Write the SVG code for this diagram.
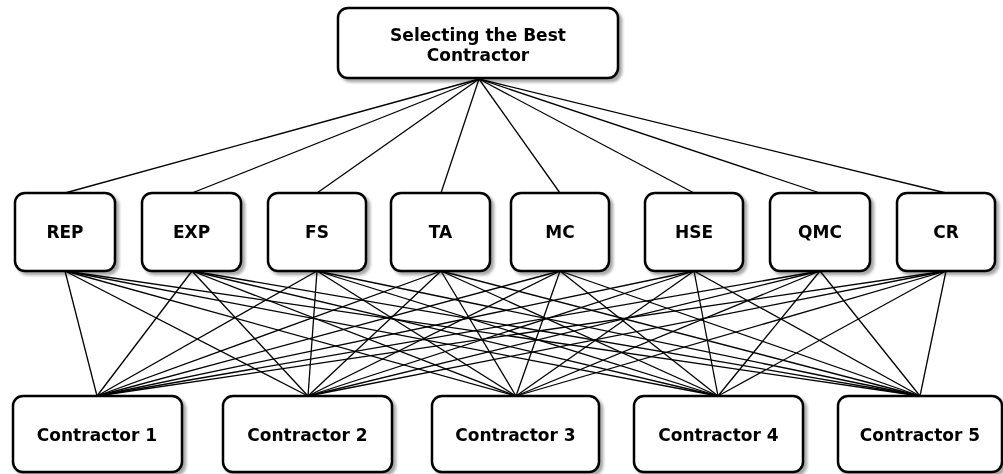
<svg xmlns="http://www.w3.org/2000/svg" width="1003" height="474" viewBox="0 0 1003 474">
<defs>
<filter id="sh" x="-10%" y="-10%" width="130%" height="130%">
<feGaussianBlur in="SourceAlpha" stdDeviation="1.5"/>
<feOffset dx="3" dy="3" result="b"/>
<feComponentTransfer><feFuncA type="linear" slope="0.35"/></feComponentTransfer>
<feMerge><feMergeNode/><feMergeNode in="SourceGraphic"/></feMerge>
</filter>
</defs>
<style>
.box{fill:#fff;stroke:#000;stroke-width:2.5}
.t{font-family:"DejaVu Sans",Verdana,sans-serif;font-weight:bold;font-size:17px;text-anchor:middle;fill:#000}
.c line{stroke:#000;stroke-width:1.3}
</style>
<rect width="1003" height="474" fill="#fff"/>
<g class="c" id="connectors">
<line x1="479" y1="79" x2="65" y2="193"/>
<line x1="479" y1="79" x2="192" y2="193"/>
<line x1="479" y1="79" x2="317" y2="193"/>
<line x1="479" y1="79" x2="441" y2="193"/>
<line x1="479" y1="79" x2="560" y2="193"/>
<line x1="479" y1="79" x2="694" y2="193"/>
<line x1="479" y1="79" x2="820" y2="193"/>
<line x1="479" y1="79" x2="946" y2="193"/>
<line x1="65" y1="271" x2="97" y2="396"/><line x1="65" y1="271" x2="308" y2="396"/><line x1="65" y1="271" x2="516" y2="396"/><line x1="65" y1="271" x2="718" y2="396"/><line x1="65" y1="271" x2="920" y2="396"/>
<line x1="192" y1="271" x2="97" y2="396"/><line x1="192" y1="271" x2="308" y2="396"/><line x1="192" y1="271" x2="516" y2="396"/><line x1="192" y1="271" x2="718" y2="396"/><line x1="192" y1="271" x2="920" y2="396"/>
<line x1="317" y1="271" x2="97" y2="396"/><line x1="317" y1="271" x2="308" y2="396"/><line x1="317" y1="271" x2="516" y2="396"/><line x1="317" y1="271" x2="718" y2="396"/><line x1="317" y1="271" x2="920" y2="396"/>
<line x1="441" y1="271" x2="97" y2="396"/><line x1="441" y1="271" x2="308" y2="396"/><line x1="441" y1="271" x2="516" y2="396"/><line x1="441" y1="271" x2="718" y2="396"/><line x1="441" y1="271" x2="920" y2="396"/>
<line x1="560" y1="271" x2="97" y2="396"/><line x1="560" y1="271" x2="308" y2="396"/><line x1="560" y1="271" x2="516" y2="396"/><line x1="560" y1="271" x2="718" y2="396"/><line x1="560" y1="271" x2="920" y2="396"/>
<line x1="694" y1="271" x2="97" y2="396"/><line x1="694" y1="271" x2="308" y2="396"/><line x1="694" y1="271" x2="516" y2="396"/><line x1="694" y1="271" x2="718" y2="396"/><line x1="694" y1="271" x2="920" y2="396"/>
<line x1="820" y1="271" x2="97" y2="396"/><line x1="820" y1="271" x2="308" y2="396"/><line x1="820" y1="271" x2="516" y2="396"/><line x1="820" y1="271" x2="718" y2="396"/><line x1="820" y1="271" x2="920" y2="396"/>
<line x1="946" y1="271" x2="97" y2="396"/><line x1="946" y1="271" x2="308" y2="396"/><line x1="946" y1="271" x2="516" y2="396"/><line x1="946" y1="271" x2="718" y2="396"/><line x1="946" y1="271" x2="920" y2="396"/>
</g>
<g id="goal" filter="url(#sh)"><rect class="box" x="338" y="8" width="280" height="70" rx="10"/><text class="t" x="478" y="41">Selecting the Best</text><text class="t" x="478" y="61">Contractor</text></g>
<g id="rep" filter="url(#sh)"><rect class="box" x="15" y="193" width="100" height="78" rx="10"/><text class="t" x="65" y="238">REP</text></g>
<g id="exp" filter="url(#sh)"><rect class="box" x="142" y="193" width="99" height="78" rx="10"/><text class="t" x="191.5" y="238">EXP</text></g>
<g id="fs" filter="url(#sh)"><rect class="box" x="268" y="193" width="98" height="78" rx="10"/><text class="t" x="317" y="238">FS</text></g>
<g id="ta" filter="url(#sh)"><rect class="box" x="391" y="193" width="99" height="78" rx="10"/><text class="t" x="440.5" y="238">TA</text></g>
<g id="mc" filter="url(#sh)"><rect class="box" x="511" y="193" width="98" height="78" rx="10"/><text class="t" x="560" y="238">MC</text></g>
<g id="hse" filter="url(#sh)"><rect class="box" x="645" y="193" width="98" height="78" rx="10"/><text class="t" x="694" y="238">HSE</text></g>
<g id="qmc" filter="url(#sh)"><rect class="box" x="770" y="193" width="100" height="78" rx="10"/><text class="t" x="820" y="238">QMC</text></g>
<g id="cr" filter="url(#sh)"><rect class="box" x="897" y="193" width="98" height="78" rx="10"/><text class="t" x="946" y="238">CR</text></g>
<g id="c1" filter="url(#sh)"><rect class="box" x="13" y="396" width="169" height="76" rx="10"/><text class="t" x="97" y="441">Contractor 1</text></g>
<g id="c2" filter="url(#sh)"><rect class="box" x="223" y="396" width="169" height="76" rx="10"/><text class="t" x="307.5" y="441">Contractor 2</text></g>
<g id="c3" filter="url(#sh)"><rect class="box" x="432" y="396" width="167" height="76" rx="10"/><text class="t" x="515.5" y="441">Contractor 3</text></g>
<g id="c4" filter="url(#sh)"><rect class="box" x="634" y="396" width="169" height="76" rx="10"/><text class="t" x="718.5" y="441">Contractor 4</text></g>
<g id="c5" filter="url(#sh)"><rect class="box" x="838" y="396" width="164" height="76" rx="10"/><text class="t" x="920" y="441">Contractor 5</text></g>
</svg>
